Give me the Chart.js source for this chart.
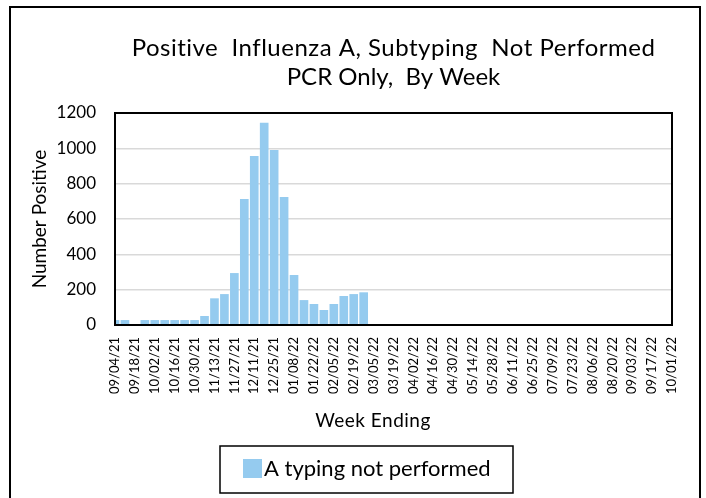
<!DOCTYPE html>
<html>
<head>
<meta charset="utf-8">
<script src="https://cdn.jsdelivr.net/npm/chart.js@4/dist/chart.umd.min.js"></script>
<style>
  html, body { margin: 0; padding: 0; background: #fff; }
  #wrap { width: 706px; height: 498px; }
</style>
</head>
<body>
<div id="wrap"><canvas id="fluChart" width="706" height="498"></canvas></div>
<script>
const weeks = [
  "09/04/21", "09/11/21", "09/18/21", "09/25/21", "10/02/21", "10/09/21", "10/16/21", "10/23/21",
  "10/30/21", "11/06/21", "11/13/21", "11/20/21", "11/27/21", "12/04/21", "12/11/21", "12/18/21",
  "12/25/21", "01/01/22", "01/08/22", "01/15/22", "01/22/22", "01/29/22", "02/05/22", "02/12/22",
  "02/19/22", "02/26/22", "03/05/22", "03/12/22", "03/19/22", "03/26/22", "04/02/22", "04/09/22",
  "04/16/22", "04/23/22", "04/30/22", "05/07/22", "05/14/22", "05/21/22", "05/28/22", "06/04/22",
  "06/11/22", "06/18/22", "06/25/22", "07/02/22", "07/09/22", "07/16/22", "07/23/22", "07/30/22",
  "08/06/22", "08/13/22", "08/20/22", "08/27/22", "09/03/22", "09/10/22", "09/17/22", "09/24/22",
  "10/01/22"
]

// weeks after 02/26/22 have no reported values yet
const positives = [
  28, 28, 0, 28, 28, 28, 28, 28, 28, 51, 151, 175, 294, 713, 956, 1145,
  990, 724, 283, 141, 119, 85, 119, 164, 175, 185
]

const yTicks = [0, 200, 400, 600, 800, 1000, 1200]

const titleLines = ["Positive  Influenza A, Subtyping  Not Performed", "PCR Only,  By Week"]
const xTitle = "Week Ending"
const yTitle = "Number Positive"
const seriesName = "A typing not performed"

const barColor = "#95CBEF"
const fontFamily = "Lato, 'Open Sans', sans-serif"

const decor = {
  id: "decor",
  beforeDraw(chart) {
    const ctx = chart.ctx
    ctx.save()
    ctx.fillStyle = "#fff"
    ctx.fillRect(0, 0, chart.width, chart.height)
    ctx.strokeStyle = "#000"
    ctx.lineWidth = 2
    ctx.strokeRect(10, 7, 690, 520)
    ctx.restore()
  },
  afterDraw(chart) {
    const ctx = chart.ctx
    const area = chart.chartArea
    const mid = (area.left + area.right) / 2
    ctx.save()
    // plot box
    ctx.strokeStyle = "#000"
    ctx.lineWidth = 2
    ctx.strokeRect(area.left, area.top, area.right - area.left, area.bottom - area.top)

    // title
    ctx.fillStyle = "#000"
    ctx.textAlign = "center"
    ctx.textBaseline = "middle"
    ctx.font = "24px " + fontFamily
    ctx.letterSpacing = "0.5px"
    ctx.fillText(titleLines[0], mid, 48)
    ctx.letterSpacing = "0px"
    ctx.fillText(titleLines[1], mid, 77)

    // x axis title
    ctx.font = "19px " + fontFamily
    ctx.letterSpacing = "0.5px"
    ctx.fillText(xTitle, 373, 421)
    ctx.letterSpacing = "0px"

    // legend
    ctx.lineWidth = 1.5
    ctx.strokeRect(220, 446, 293, 47)
    ctx.fillStyle = barColor
    ctx.fillRect(243, 459, 19, 19)
    ctx.fillStyle = "#000"
    ctx.textAlign = "left"
    ctx.font = "22px " + fontFamily
    ctx.fillText(seriesName, 264, 469)
    ctx.restore()
  }
}

new Chart(document.getElementById("fluChart"), {
  type: "bar",
  data: {
    labels: weeks,
    datasets: [
      {
        label: seriesName,
        data: positives,
        backgroundColor: barColor,
        categoryPercentage: 1,
        barPercentage: 0.87
      }
    ]
  },
  options: {
    responsive: false,
    animation: false,
    layout: {
      padding: { top: 113, left: 12, right: 34, bottom: 0 }
    },
    scales: {
      x: {
        offset: false,
        grid: { display: false, offset: false },
        border: { color: "#000", width: 2 },
        ticks: {
          autoSkip: false,
          maxRotation: 90,
          minRotation: 90,
          padding: 4,
          color: "#000",
          font: { family: fontFamily, size: 13 },
          callback: function (value, index) {
            return index % 2 === 0 ? this.getLabelForValue(value) : ""
          }
        },
        afterFit: scale => { scale.height = 173 }
      },
      y: {
        min: 0,
        max: 1200,
        afterBuildTicks: scale => { scale.ticks = yTicks.map(v => ({ value: v })) },
        grid: { color: "#D9D9D9", lineWidth: 1.5, drawTicks: false },
        border: { color: "#000", width: 2 },
        ticks: {
          padding: 19,
          color: "#000",
          font: { family: fontFamily, size: 17 },
          callback: v => String(v)
        },
        title: {
          display: true,
          text: yTitle,
          color: "#000",
          font: { family: fontFamily, size: 19 },
          padding: { top: 16, bottom: 0 }
        },
        afterFit: scale => { scale.width = 103 }
      }
    },
    plugins: {
      legend: { display: false },
      title: { display: false },
      tooltip: { enabled: false }
    }
  },
  plugins: [decor]
})
</script>
</body>
</html>
